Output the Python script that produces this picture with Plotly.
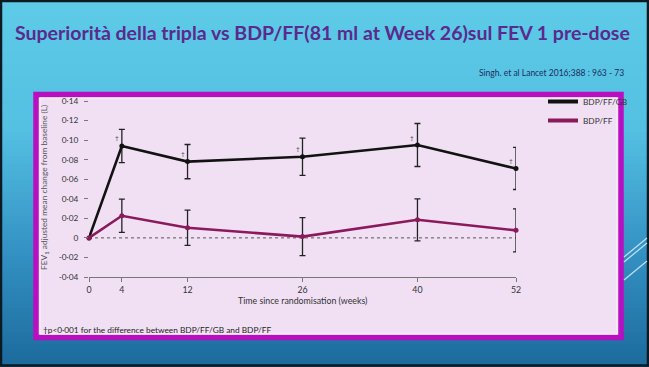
import plotly.graph_objects as go

weeks = [0, 4, 12, 26, 40, 52]
triple = [0.0, 0.094, 0.078, 0.083, 0.095, 0.071]
triple_err = [0.0, 0.017, 0.0175, 0.019, 0.022, 0.0215]
dual = [0.0, 0.0226, 0.0103, 0.0013, 0.0185, 0.0077]
dual_err = [0.0, 0.017, 0.018, 0.0195, 0.0215, 0.022]
dagger_weeks = [4, 12, 26, 40, 52]
ytick_vals = [-0.04, -0.02, 0, 0.02, 0.04, 0.06, 0.08, 0.10, 0.12, 0.14]
ytick_text = ["-0·04", "-0·02", "0", "0·02", "0·04", "0·06", "0·08", "0·10", "0·12", "0·14"]
xtick_vals = [0, 4, 12, 26, 40, 52]

W, H = 649, 367
L, R, T, B = 89, 516, 101, 277


def px(x):
    return (x - L) / (R - L)


def py(y):
    return (B - y) / (B - T)


BLACK = "#121212"
PURPLE = "#8a1a5c"
FONT = "Lato"

fig = go.Figure()
fig.add_trace(go.Scatter(
    x=weeks, y=triple, name="BDP/FF/GB", mode="lines+markers", showlegend=False,
    line=dict(color=BLACK, width=2.6), marker=dict(size=5, color=BLACK),
    error_y=dict(type="data", array=triple_err, color="#222", thickness=1.3, width=3),
    cliponaxis=False,
))
fig.add_trace(go.Scatter(
    x=weeks, y=dual, name="BDP/FF", mode="lines+markers", showlegend=False,
    line=dict(color=PURPLE, width=2.6), marker=dict(size=5, color=PURPLE),
    error_y=dict(type="data", array=dual_err, color="#222", thickness=1.3, width=3),
    cliponaxis=False,
))
# legend entries (line only, like the reference)
fig.add_trace(go.Scatter(x=[None], y=[None], name="BDP/FF/GB", mode="lines",
                         line=dict(color=BLACK, width=4)))
fig.add_trace(go.Scatter(x=[None], y=[None], name="BDP/FF", mode="lines",
                         line=dict(color=PURPLE, width=4)))

shapes = []
stops = [(0, (94, 203, 232)), (130, (84, 192, 226)), (250, (52, 146, 196)), (367, (28, 106, 156))]


def col_at(y):
    for (y0, c0), (y1, c1) in zip(stops[:-1], stops[1:]):
        if y0 <= y <= y1:
            t = (y - y0) / (y1 - y0)
            return "rgb(%d,%d,%d)" % tuple(round(a + (b - a) * t) for a, b in zip(c0, c1))
    return "rgb(%d,%d,%d)" % stops[-1][1]


step = 4
for yy in range(0, H, step):
    shapes.append(dict(type="rect", xref="paper", yref="paper", layer="below",
                       x0=px(0), x1=px(W), y0=py(yy + step + 0.5), y1=py(yy),
                       fillcolor=col_at(yy + step / 2), line=dict(width=0)))
shapes.append(dict(type="rect", xref="paper", yref="paper", layer="above",
                   x0=px(1), x1=px(W - 1), y0=py(H - 1.5), y1=py(1),
                   line=dict(color="#0a1a22", width=2.5)))
shapes.append(dict(type="rect", xref="paper", yref="paper", layer="below",
                   x0=px(36), x1=px(621), y0=py(337.5), y1=py(94.5),
                   fillcolor="#f1e0f4", line=dict(color="#b80fc0", width=5.5)))
shapes.append(dict(type="rect", xref="paper", yref="paper", layer="below",
                   x0=px(40), x1=px(617), y0=py(334), y1=py(98),
                   line=dict(color="#fbf3fc", width=1)))
shapes.append(dict(type="line", xref="x", yref="y", layer="below",
                   x0=0, x1=52, y0=0, y1=0, line=dict(color="#555", width=1, dash="dot")))
for (x0, y0, x1, y1) in [(624, 257, 647, 238), (624, 262, 647, 243), (624, 280, 647, 261)]:
    shapes.append(dict(type="line", xref="paper", yref="paper", layer="above",
                       x0=px(x0), x1=px(x1), y0=py(y0), y1=py(y1),
                       line=dict(color="rgba(220,240,250,0.85)", width=1.2)))

annotations = [
    dict(text="Superiorità della tripla vs BDP/FF(81 ml at Week 26)sul FEV 1 pre-dose",
         x=px(322), y=py(32), xref="paper", yref="paper", showarrow=False,
         xanchor="center", yanchor="middle",
         font=dict(family=FONT, size=19.5, color="#5a2a8c", weight="bold")),
    dict(text="Singh. et al Lancet 2016;388 : 963 - 73",
         x=px(626), y=py(73), xref="paper", yref="paper", showarrow=False,
         xanchor="right", yanchor="middle",
         font=dict(family=FONT, size=8.5, color="#1c2c5c")),
    dict(text="FEV<sub>1</sub> adjusted mean change from baseline (L)",
         x=px(44), y=py(188), xref="paper", yref="paper", showarrow=False,
         textangle=-90, xanchor="center", yanchor="middle",
         font=dict(family=FONT, size=8.4, color="#555")),
    dict(text="Time since randomisation (weeks)",
         x=px(302), y=py(300), xref="paper", yref="paper", showarrow=False,
         xanchor="center", yanchor="middle",
         font=dict(family=FONT, size=8.8, color="#333")),
    dict(text="†p<0·001 for the difference between BDP/FF/GB and BDP/FF",
         x=px(41), y=py(330), xref="paper", yref="paper", showarrow=False,
         xanchor="left", yanchor="middle",
         font=dict(family=FONT, size=8.3, color="#222")),
]
for wk in dagger_weeks:
    annotations.append(dict(text="†", x=wk, y=triple[weeks.index(wk)], xref="x", yref="y",
                            showarrow=False, xshift=-5, yshift=8,
                            font=dict(family=FONT, size=6.5, color="#444")))

fig.update_layout(
    width=W, height=H,
    margin=dict(l=L, r=W - R, t=T, b=H - B),
    paper_bgcolor="#3a9ccc", plot_bgcolor="rgba(0,0,0,0)",
    shapes=shapes, annotations=annotations,
    showlegend=True,
    legend=dict(x=px(543), y=py(87), xref="paper", yref="paper", xanchor="left", yanchor="top",
                bgcolor="rgba(0,0,0,0)", font=dict(family=FONT, size=8.3, color="#333"),
                itemwidth=30, tracegroupgap=0),
    xaxis=dict(range=[0, 52], tickvals=xtick_vals, showgrid=False, zeroline=False,
               showline=True, linecolor="#777", linewidth=1, ticks="outside", ticklen=4,
               tickcolor="#777", tickfont=dict(family=FONT, size=8.8, color="#333")),
    yaxis=dict(range=[-0.04, 0.14], tickvals=ytick_vals, ticktext=ytick_text, showgrid=False,
               zeroline=False, showline=False, ticks="outside", ticklen=4, tickcolor="#777",
               ticklabelstandoff=4,
               tickfont=dict(family=FONT, size=8.3, color="#333")),
)

fig.write_html("out.html", config={"displayModeBar": False},
               post_script="document.body.style.margin='0';document.body.style.overflow='hidden';")
